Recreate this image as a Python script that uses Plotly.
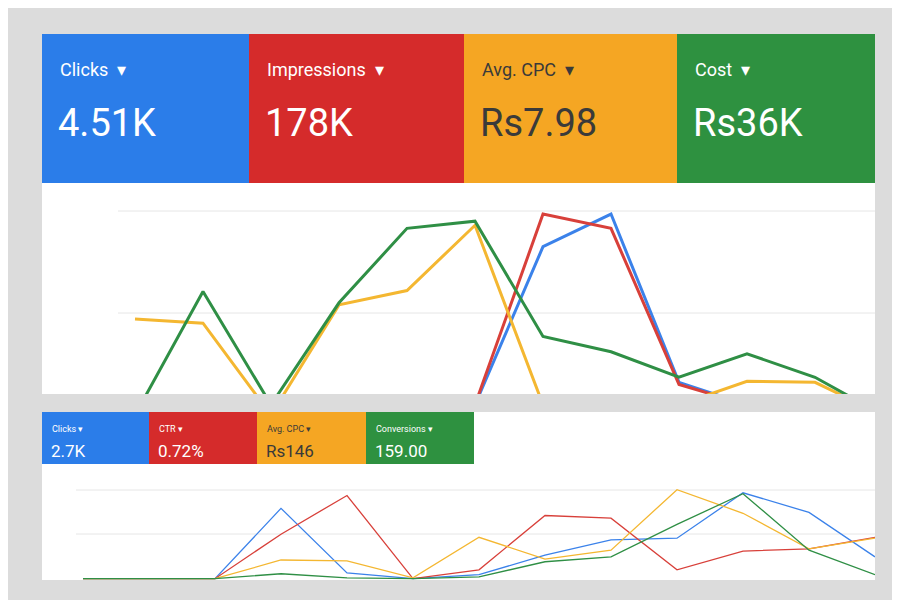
import plotly.graph_objects as go

# Top dashboard
top_labels = ["Clicks", "Impressions", "Avg. CPC", "Cost"]
top_values = ["4.51K", "178K", "Rs7.98", "Rs36K"]
top_idx = list(range(12))
top_blue   = [0, 0, 0, 0, 0, 0.1, 1.65, 1.97, 0.32, 0.1, 0.1, 0.1]
top_red    = [0, 0, 0, 0, 0, 0.1, 1.97, 1.83, 0.30, 0.1, 0.1, 0.1]
top_orange = [0.94, 0.90, 0.0, 1.08, 1.22, 1.86, 0.1, 0.0, 0.1, 0.33, 0.32, 0.0]
top_green  = [0.0, 1.21, 0.1, 1.10, 1.83, 1.90, 0.77, 0.62, 0.37, 0.60, 0.37, 0.0]

# Bottom dashboard
bot_labels = ["Clicks", "CTR", "Avg. CPC", "Conversions"]
bot_values = ["2.7K", "0.72%", "Rs146", "159.00"]
bot_idx = list(range(13))
bot_blue   = [0, 0, 0, 1.58, 0.13, 0.0, 0.09, 0.53, 0.87, 0.91, 1.93, 1.49, 0.49]
bot_red    = [0, 0, 0, 1.00, 1.87, 0.0, 0.20, 1.42, 1.36, 0.20, 0.62, 0.67, 0.93]
bot_orange = [0, 0, 0, 0.42, 0.40, 0.02, 0.93, 0.44, 0.64, 2.00, 1.47, 0.67, 0.91]
bot_green  = [0, 0, 0, 0.11, 0.02, 0.0, 0.04, 0.38, 0.49, 1.22, 1.91, 0.64, 0.09]

W, H = 900, 600
px = lambda x: x / W
py = lambda y: 1 - y / H

tile_cols = ["#2b7de9", "#d52b2b", "#f5a623", "#2e9140"]
line_cols = ["#3b82ea", "#d8403a", "#f4b731", "#2f8f45"]
text_cols = ["white", "white", "#3a3a3a", "white"]

fig = go.Figure()
for s, c in zip([top_blue, top_red, top_orange, top_green], line_cols):
    fig.add_trace(go.Scatter(x=top_idx, y=s, mode="lines", line=dict(color=c, width=3),
                             xaxis="x", yaxis="y", hoverinfo="skip"))
for s, c in zip([bot_blue, bot_red, bot_orange, bot_green], line_cols):
    fig.add_trace(go.Scatter(x=bot_idx, y=s, mode="lines", line=dict(color=c, width=1.3),
                             xaxis="x2", yaxis="y2", hoverinfo="skip"))

shapes = [
    dict(type="rect", xref="paper", yref="paper", x0=px(34), x1=px(867), y0=py(386), y1=py(26),
         fillcolor="white", line_width=0, layer="below"),
    dict(type="rect", xref="paper", yref="paper", x0=px(34), x1=px(867), y0=py(572), y1=py(404),
         fillcolor="white", line_width=0, layer="below"),
]
# gridlines
for yy in [203, 305]:
    shapes.append(dict(type="line", xref="paper", yref="paper", x0=px(110), x1=px(867),
                       y0=py(yy), y1=py(yy), line=dict(color="#e6e6e6", width=1), layer="below"))
for yy in [482, 526]:
    shapes.append(dict(type="line", xref="paper", yref="paper", x0=px(68), x1=px(867),
                       y0=py(yy), y1=py(yy), line=dict(color="#e6e6e6", width=1), layer="below"))

annotations = []
tx = [34, 241, 456, 669, 867]
for i in range(4):
    shapes.append(dict(type="rect", xref="paper", yref="paper", x0=px(tx[i]), x1=px(tx[i + 1]),
                       y0=py(175), y1=py(26), fillcolor=tile_cols[i], line_width=0))
    annotations.append(dict(x=px(tx[i] + 16), y=py(62), xref="paper", yref="paper", xanchor="left",
                            yanchor="middle", showarrow=False, text=top_labels[i] + "  ▾",
                            font=dict(family="Roboto", size=18, color=text_cols[i])))
    annotations.append(dict(x=px(tx[i] + 14), y=py(115), xref="paper", yref="paper", xanchor="left",
                            yanchor="middle", showarrow=False, text=top_values[i],
                            font=dict(family="Roboto", size=38, color=text_cols[i])))
bx = [34, 141, 249, 358, 466]
for i in range(4):
    shapes.append(dict(type="rect", xref="paper", yref="paper", x0=px(bx[i]), x1=px(bx[i + 1]),
                       y0=py(456), y1=py(404), fillcolor=tile_cols[i], line_width=0))
    annotations.append(dict(x=px(bx[i] + 8), y=py(421), xref="paper", yref="paper", xanchor="left",
                            yanchor="middle", showarrow=False, text=bot_labels[i] + " ▾",
                            font=dict(family="Roboto", size=9, color=text_cols[i])))
    annotations.append(dict(x=px(bx[i] + 7), y=py(443), xref="paper", yref="paper", xanchor="left",
                            yanchor="middle", showarrow=False, text=bot_values[i],
                            font=dict(family="Roboto", size=17, color=text_cols[i])))

ax = dict(showgrid=False, zeroline=False, showticklabels=False, showline=False, fixedrange=True)
fig.update_layout(
    width=W, height=H, margin=dict(l=0, r=0, t=0, b=0), showlegend=False,
    paper_bgcolor="#dcdcdc", plot_bgcolor="rgba(0,0,0,0)",
    xaxis=dict(ax, domain=[px(34), px(867)], range=[(34 - 127) / 68, (867 - 127) / 68]),
    yaxis=dict(ax, domain=[py(386), py(175)], range=[(407 - 386) / 102, (407 - 175) / 102]),
    xaxis2=dict(ax, domain=[px(34), px(867)], range=[(34 - 75) / 66, (867 - 75) / 66], anchor="y2"),
    yaxis2=dict(ax, domain=[py(572), py(456)], range=[-0.03, (572 - 456) / 45], anchor="x2"),
    shapes=shapes, annotations=annotations,
)
fig.write_html("out.html")
